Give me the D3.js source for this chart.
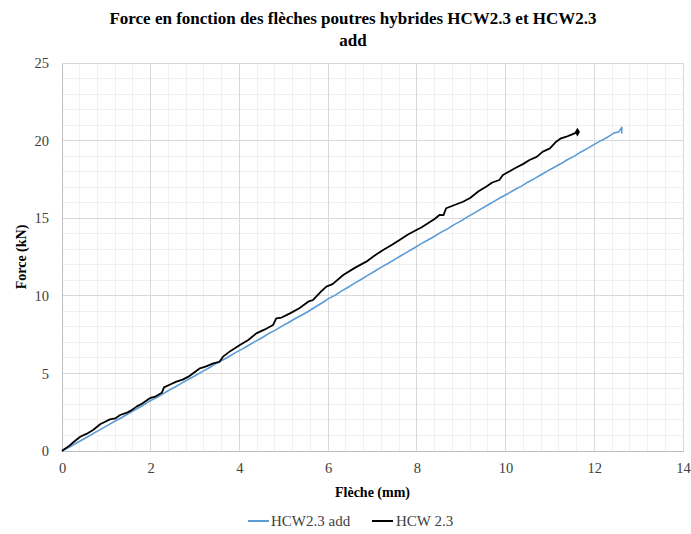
<!DOCTYPE html>
<html><head><meta charset="utf-8">
<script src="https://cdn.jsdelivr.net/npm/d3@7"></script>
<style>body{margin:0;background:#fff}svg text{font-family:"Liberation Serif","Times New Roman",serif !important}</style>
</head><body><svg id="c" width="691" height="534"></svg>
<script>
const title = ["Force en fonction des flèches poutres hybrides HCW2.3 et HCW2.3", "add"];
const xLabel = "Flèche (mm)";
const yLabel = "Force (kN)";
const seriesNames = ["HCW2.3 add", "HCW 2.3"];
const xTicks = [0,2,4,6,8,10,12,14];
const yTicks = [0,5,10,15,20,25];

const addX = [0,0.15,0.3,0.45,0.6,0.75,0.9,1.05,1.2,1.35,1.5,1.65,1.8,1.95,2.1,2.25,2.4,2.55,2.7,2.85,3.0,3.15,3.3,3.45,3.6,3.75,3.9,4.05,4.2,4.35,4.5,4.65,4.8,4.95,5.1,5.25,5.4,5.55,5.7,5.85,6.0,6.15,6.3,6.45,6.6,6.75,6.9,7.05,7.2,7.35,7.5,7.65,7.8,7.95,8.1,8.25,8.4,8.55,8.7,8.85,9.0,9.15,9.3,9.45,9.6,9.75,9.9,10.05,10.2,10.35,10.5,10.65,10.8,10.95,11.1,11.25,11.4,11.55,11.7,11.85,12.0,12.15,12.3,12.45,12.55,12.62,12.62];
const addY = [0,0.22,0.47,0.71,0.95,1.2,1.44,1.68,1.93,2.16,2.42,2.66,2.9,3.17,3.4,3.63,3.9,4.12,4.37,4.62,4.85,5.1,5.33,5.6,5.83,6.06,6.32,6.55,6.8,7.05,7.28,7.55,7.77,8.03,8.26,8.52,8.75,8.99,9.26,9.52,9.8,10.03,10.3,10.55,10.82,11.07,11.33,11.58,11.85,12.08,12.35,12.6,12.85,13.1,13.36,13.6,13.84,14.1,14.33,14.6,14.83,15.1,15.34,15.6,15.85,16.1,16.35,16.58,16.83,17.05,17.32,17.55,17.8,18.05,18.28,18.52,18.78,19.0,19.27,19.5,19.76,20.0,20.22,20.5,20.55,20.85,20.45];

const hcwX = [0,0.05,0.15,0.25,0.41,0.55,0.7,0.86,0.95,1.08,1.2,1.31,1.45,1.55,1.68,1.8,1.98,2.1,2.25,2.3,2.45,2.58,2.72,2.85,2.95,3.11,3.25,3.41,3.55,3.63,3.8,4.01,4.2,4.38,4.55,4.76,4.83,4.95,5.14,5.35,5.55,5.66,5.85,5.96,6.1,6.34,6.6,6.86,7.05,7.24,7.45,7.61,7.8,7.99,8.1,8.25,8.4,8.51,8.6,8.66,8.85,9.04,9.2,9.4,9.56,9.7,9.86,9.94,10.2,10.4,10.54,10.7,10.84,11.0,11.14,11.25,11.37,11.5,11.62];
const hcwY = [0,0.12,0.3,0.55,0.92,1.1,1.35,1.72,1.85,2.04,2.1,2.32,2.45,2.6,2.86,3.05,3.4,3.5,3.75,4.1,4.3,4.47,4.6,4.79,5.0,5.33,5.45,5.65,5.75,6.08,6.45,6.83,7.15,7.58,7.8,8.12,8.55,8.6,8.87,9.2,9.62,9.73,10.3,10.59,10.75,11.34,11.8,12.2,12.6,12.95,13.3,13.6,13.95,14.24,14.4,14.67,14.95,15.21,15.2,15.64,15.85,16.06,16.3,16.75,17.03,17.3,17.46,17.78,18.2,18.5,18.75,18.95,19.29,19.5,19.93,20.15,20.25,20.4,20.55];

const colors = ["#5b9bd5", "#000000"];
const FONT = "Liberation Serif, Times New Roman, serif";

const svg = d3.select("#c");
const L = 62, R = 683, T = 63, B = 451;
const x = d3.scaleLinear().domain([0,14]).range([L,R]);
const y = d3.scaleLinear().domain([0,25]).range([B,T]);

const g = svg.append("g");
g.selectAll(".mx").data(d3.range(0,14.001,0.4)).join("line")
  .attr("x1",d=>x(d)).attr("x2",d=>x(d)).attr("y1",T).attr("y2",B)
  .attr("stroke","#f0f0f0").attr("stroke-width",1).attr("shape-rendering","crispEdges");
g.selectAll(".my").data(d3.range(0,25.001,1)).join("line")
  .attr("y1",d=>y(d)).attr("y2",d=>y(d)).attr("x1",L).attr("x2",R)
  .attr("stroke","#f0f0f0").attr("stroke-width",1).attr("shape-rendering","crispEdges");
g.selectAll(".Mx").data(xTicks).join("line")
  .attr("x1",d=>x(d)).attr("x2",d=>x(d)).attr("y1",T).attr("y2",B)
  .attr("stroke","#d9d9d9").attr("stroke-width",1).attr("shape-rendering","crispEdges");
g.selectAll(".My").data(yTicks).join("line")
  .attr("y1",d=>y(d)).attr("y2",d=>y(d)).attr("x1",L).attr("x2",R)
  .attr("stroke","#d9d9d9").attr("stroke-width",1).attr("shape-rendering","crispEdges");

const xAxis = svg.append("g").attr("transform",`translate(0,${B})`)
  .call(d3.axisBottom(x).tickValues(xTicks).tickSize(0).tickPadding(12).tickFormat(d3.format("d")));
const yAxis = svg.append("g").attr("transform",`translate(${L},0)`)
  .call(d3.axisLeft(y).tickValues(yTicks).tickSize(0).tickPadding(13).tickFormat(d3.format("d")));
[xAxis,yAxis].forEach(a=>{
  a.attr("font-family",FONT);
  a.select(".domain").attr("stroke","#bfbfbf").attr("shape-rendering","crispEdges");
  a.selectAll("text").attr("font-family",FONT).attr("font-size",14.5).attr("fill","#404040");
});

const line = d3.line().x(d=>x(d[0])).y(d=>y(d[1]));
const addData = addX.map((v,i)=>[v,addY[i]]);
const hcwData = hcwX.map((v,i)=>[v,hcwY[i]]);
svg.append("path").datum(addData).attr("d",line).attr("fill","none")
  .attr("stroke",colors[0]).attr("stroke-width",1.6).attr("stroke-linejoin","round");
svg.append("path").datum(hcwData).attr("d",line).attr("fill","none")
  .attr("stroke",colors[1]).attr("stroke-width",1.8).attr("stroke-linejoin","round");
const last = hcwData[hcwData.length-1];
svg.append("path").attr("d",d3.symbol(d3.symbolDiamond,22)())
  .attr("transform",`translate(${x(last[0])},${y(last[1])})`).attr("fill","#000");

svg.append("text").attr("x",353).attr("y",24).attr("text-anchor","middle").attr("font-family",FONT)
  .attr("font-weight","bold").attr("font-size",17).attr("fill","#000").text(title[0]);
svg.append("text").attr("x",353).attr("y",46).attr("text-anchor","middle").attr("font-family",FONT)
  .attr("font-weight","bold").attr("font-size",17).attr("fill","#000").text(title[1]);

svg.append("text").attr("x",(L+R)/2).attr("y",497).attr("text-anchor","middle").attr("font-family",FONT)
  .attr("font-weight","bold").attr("font-size",14).attr("fill","#000").text(xLabel);
svg.append("text").attr("transform",`translate(26,${(T+B)/2}) rotate(-90)`).attr("text-anchor","middle").attr("font-family",FONT)
  .attr("font-weight","bold").attr("font-size",14).attr("fill","#000").text(yLabel);

const lg = svg.append("g");
const items = [{x0:248, tx:271},{x0:372, tx:396}];
items.forEach((it,i)=>{
  lg.append("line").attr("x1",it.x0).attr("x2",it.x0+21).attr("y1",521).attr("y2",521)
    .attr("stroke",colors[i]).attr("stroke-width",2);
  lg.append("text").attr("x",it.tx).attr("y",526).attr("font-family",FONT).attr("font-size",15).attr("fill","#404040").text(seriesNames[i]);
});
</script></body></html>
